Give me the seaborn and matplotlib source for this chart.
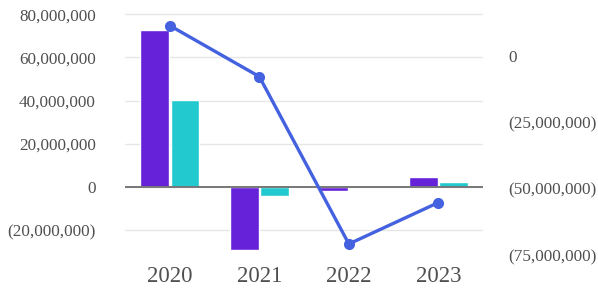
import numpy as np
import pandas as pd
import matplotlib
matplotlib.use("Agg")
import matplotlib.pyplot as plt
from matplotlib.ticker import FuncFormatter
import seaborn as sns

# ====================== data ======================
years = ["2020", "2021", "2022", "2023"]
series_a = [72.7e6, -29.3e6, -1.7e6, 4.8e6]    # purple bars
series_b = [40.1e6, -4.2e6, 0.0, 2.3e6]        # teal bars
line_vals = [11.4e6, -7.8e6, -70.8e6, -55.2e6]  # right axis line

left_ticks = [-20e6, 0, 20e6, 40e6, 60e6, 80e6]
right_ticks = [0, -25e6, -50e6, -75e6]

purple = "#6622D8"
teal = "#22C9CF"
blue = "#4462E0"
grey_txt = "#505050"

bars = pd.DataFrame({
    "year": years * 2,
    "value": series_a + series_b,
    "series": ["a"] * 4 + ["b"] * 4,
})
line_df = pd.DataFrame({"year": years, "value": line_vals})

def acct(v, pos=None):
    if v < 0:
        return f"({abs(v):,.0f})"
    return f"{v:,.0f}"

# ====================== plot ======================
sns.set_style("white")
plt.rcParams["font.family"] = ["Liberation Serif", "DejaVu Serif"]

fig = plt.figure(figsize=(5.98, 2.91), dpi=100)
ax = fig.add_axes([0.209, 0.105, 0.599, 0.861])

sns.barplot(data=bars, x="year", y="value", hue="series", order=years,
            palette=[purple, teal], width=0.68, gap=0.05, saturation=1,
            legend=False, ax=ax, zorder=2)

ax.set_xlim(-0.5, 3.5)
ax.set_ylim(-34e6, 82e6)
ax.set_yticks(left_ticks)
ax.yaxis.set_major_formatter(FuncFormatter(acct))
ax.grid(axis="y", color="#e6e6e6", lw=1.0, zorder=0)
ax.set_axisbelow(True)
ax.axhline(0, color="#777777", lw=1.4, zorder=3)
for s in ax.spines.values():
    s.set_visible(False)
ax.tick_params(axis="y", length=0, pad=21, labelsize=12.3, labelcolor=grey_txt)
ax.tick_params(axis="x", length=0, pad=4, labelsize=16.5, labelcolor=grey_txt)
ax.set_xlabel("")
ax.set_ylabel("")

ax2 = ax.twinx()
sns.lineplot(data=line_df, x="year", y="value", color=blue, lw=2.4,
             marker="o", markersize=8, markeredgewidth=0, ax=ax2, zorder=5)
ax2.set_ylim(-77e6, 17.3e6)
ax2.set_yticks(right_ticks)
ax2.yaxis.set_major_formatter(FuncFormatter(acct))
ax2.tick_params(axis="y", length=0, pad=18, labelsize=12.3, labelcolor=grey_txt)
for s in ax2.spines.values():
    s.set_visible(False)
ax2.set_ylabel("")
ax2.set_xlabel("")
ax2.grid(False)

fig.savefig("out.png", dpi=100)
plt.close(fig)
